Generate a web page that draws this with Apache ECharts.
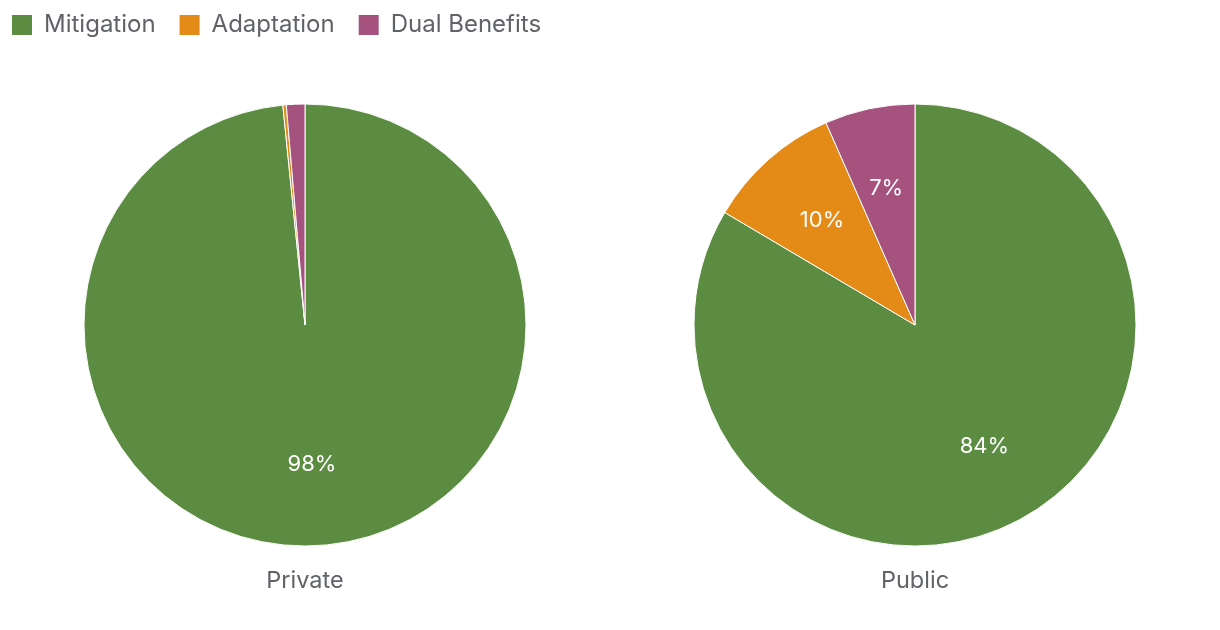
<!DOCTYPE html>
<html><head><meta charset="utf-8">
<script src="https://cdn.jsdelivr.net/npm/echarts@6/dist/echarts.min.js"></script>
<style>html,body{margin:0;padding:0;background:#fff}#c{width:1220px;height:630px}</style>
</head><body><div id="c"></div>
<script>
var categories = ['Mitigation', 'Adaptation', 'Dual Benefits'];
var privateValues = [98.4, 0.25, 1.35];
var publicValues = [83.5, 9.9, 6.6];
var panelTitles = ['Private', 'Public'];
var colors = ['#5b8c41', '#e48a17', '#a5527f'];

var FONT = 'Inter, "Open Sans", sans-serif';
var TXT = '#5f6368';
var centers = [[305,325],[915,325]];
function toData(vals){ return categories.map(function(c,i){ return {name:c, value:vals[i]}; }); }
function pieBase(center, vals){
  return {type:'pie', center:center, radius:[0,221], startAngle:90, clockwise:true,
    data: toData(vals), label:{show:false}, labelLine:{show:false},
    itemStyle:{borderColor:'#fff', borderWidth:1}, emphasis:{disabled:true}};
}
function pieLabels(center, vals){
  return {type:'pie', center:center, radius:[0,274], startAngle:90, clockwise:true, silent:true,
    data: toData(vals), labelLine:{show:false},
    itemStyle:{color:'rgba(0,0,0,0)', borderWidth:0}, emphasis:{disabled:true},
    label:{show:true, position:'inside', color:'#fff', fontSize:22, fontFamily:FONT,
      formatter:function(p){ return p.percent < 3 ? '' : Math.round(p.percent)+'%'; }}};
}
var chart = echarts.init(document.getElementById('c'));
chart.setOption({
  color: colors,
  animation:false,
  legend:{data:categories, left:10, top:13, padding:0, itemWidth:22, itemHeight:22, itemGap:22, icon:'rect',
    textStyle:{fontSize:24, color:TXT, fontFamily:FONT, padding:[0,0,0,6]}},
  graphic: panelTitles.map(function(t,i){
    return {type:'text', x:centers[i][0], y:581, style:{text:t, align:'center', verticalAlign:'middle',
      fontSize:23.5, fill:TXT, fontFamily:FONT}};
  }),
  series:[
    pieBase(centers[0], privateValues), pieBase(centers[1], publicValues),
    pieLabels(centers[0], privateValues), pieLabels(centers[1], publicValues)
  ]
});
</script></body></html>
